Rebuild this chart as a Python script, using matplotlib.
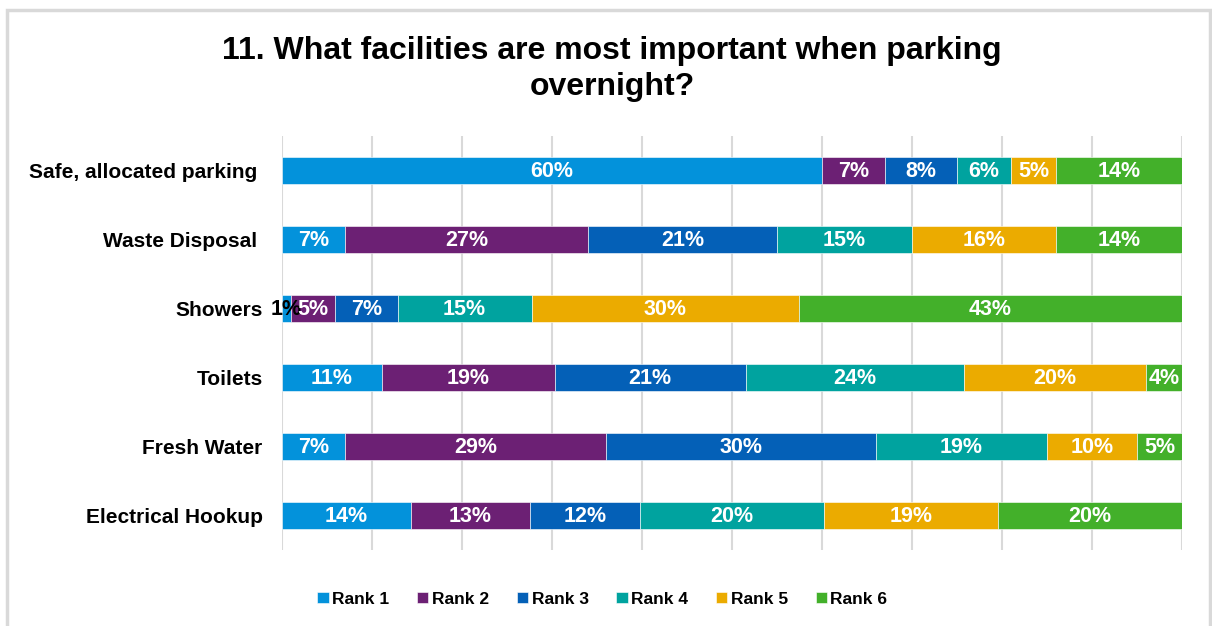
import numpy as np
import matplotlib.pyplot as plt
from matplotlib.patches import Rectangle

plt.rcParams['font.family'] = ['Liberation Sans', 'DejaVu Sans']

title = "11. What facilities are most important when parking\novernight?"

facilities = ["Safe, allocated parking ", "Waste Disposal ", "Showers", "Toilets",
              "Fresh Water", "Electrical Hookup"]
ranks = ["Rank 1", "Rank 2", "Rank 3", "Rank 4", "Rank 5", "Rank 6"]

# percent of respondents giving each rank, one list per facility
safe_parking = [60, 7, 8, 6, 5, 14]
waste_disposal = [7, 27, 21, 15, 16, 14]
showers = [1, 5, 7, 15, 30, 43]
toilets = [11, 19, 21, 24, 20, 4]
fresh_water = [7, 29, 30, 19, 10, 5]
electrical = [14, 13, 12, 20, 19, 20]

colors = ["#0392DB", "#6C2074", "#0460B7", "#00A39F", "#EBAB00", "#43B02A"]

values = np.array([safe_parking, waste_disposal, showers, toilets,
                   fresh_water, electrical], dtype=float)
# 100% stacked: each row is scaled to fill the full width
shares = values / values.sum(axis=1, keepdims=True) * 100

fig = plt.figure(figsize=(12.12, 6.26), dpi=100)

# light grey chart border
fig.patches.append(Rectangle((7 / 1212, -0.1), 1203 / 1212, 1.1 - 10 / 626,
                             transform=fig.transFigure, fill=False,
                             edgecolor="#d9d9d9", linewidth=2.5))

ax = fig.add_axes([282 / 1212, 76 / 626, 900 / 1212, 414 / 626])

y = np.arange(len(facilities))
left = np.zeros(len(facilities))
for j, rank in enumerate(ranks):
    ax.barh(y, shares[:, j], left=left, height=0.4, color=colors[j],
            edgecolor="white", linewidth=0.4, label=rank, zorder=3)
    for i in range(len(facilities)):
        cx = left[i] + shares[i, j] / 2
        txt_color = "white" if values[i, j] >= 3 else "black"
        ax.text(cx, y[i] + 0.02, f"{values[i, j]:.0f}%", ha="center", va="center",
                color=txt_color, fontsize=15.5, fontweight="bold", zorder=4)
    left += shares[:, j]

ax.set_xlim(0, 100)
ax.set_ylim(len(facilities) - 0.5, -0.5)
ax.set_xticks(np.arange(0, 101, 10))
ax.set_xticklabels([])
ax.tick_params(axis="x", length=0)
ax.grid(axis="x", color="#d9d9d9", linewidth=1.5, zorder=0)
ax.set_yticks(y)
ax.set_yticklabels(facilities, fontsize=15, fontweight="bold")
ax.tick_params(axis="y", length=0, pad=14)
for s in ["top", "right", "bottom", "left"]:
    ax.spines[s].set_visible(False)

fig.text(0.505, 1 - 69 / 626, title, ha="center", va="center", fontsize=23,
         fontweight="bold", linespacing=1.3)

fig.legend(loc="center", bbox_to_anchor=(0.497, 27 / 626), ncol=6,
           frameon=False, prop={"size": 12.5, "weight": "bold"},
           handlelength=0.65, handleheight=0.65, handletextpad=0.2,
           columnspacing=1.6)

fig.savefig("out.png", dpi=100)
